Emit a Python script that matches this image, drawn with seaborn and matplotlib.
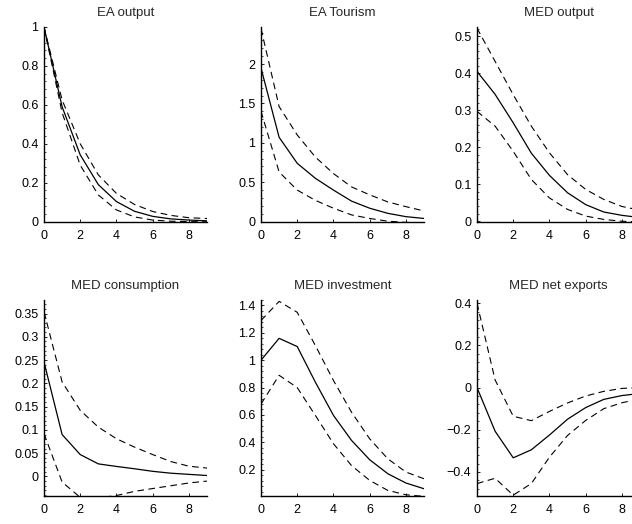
import matplotlib
matplotlib.use("Agg")
import matplotlib.pyplot as plt
from matplotlib.ticker import FuncFormatter, MultipleLocator, AutoMinorLocator
import seaborn as sns
import pandas as pd

sns.set_theme(style="ticks")
plt.rcParams['font.family'] = ['Liberation Sans', 'DejaVu Sans']
plt.rcParams['axes.unicode_minus'] = True

horizon = list(range(10))

titles = ["EA output", "EA Tourism", "MED output",
          "MED consumption", "MED investment", "MED net exports"]

ea_output_mid = [1.0, 0.59, 0.343, 0.19, 0.103, 0.053, 0.027, 0.014, 0.008, 0.004]
ea_output_up = [1.0, 0.625, 0.40, 0.24, 0.145, 0.088, 0.052, 0.032, 0.02, 0.016]
ea_output_lo = [1.0, 0.56, 0.29, 0.137, 0.06, 0.024, 0.008, 0.002, 0.0, -0.001]

ea_tourism_mid = [1.95, 1.07, 0.74, 0.55, 0.40, 0.26, 0.17, 0.105, 0.063, 0.04]
ea_tourism_up = [2.45, 1.46, 1.10, 0.82, 0.61, 0.44, 0.34, 0.25, 0.19, 0.135]
ea_tourism_lo = [1.40, 0.63, 0.40, 0.27, 0.17, 0.085, 0.04, 0.005, -0.01, -0.015]

med_output_mid = [0.405, 0.343, 0.266, 0.184, 0.124, 0.077, 0.045, 0.025, 0.016, 0.01]
med_output_up = [0.522, 0.432, 0.342, 0.257, 0.185, 0.126, 0.086, 0.059, 0.04, 0.03]
med_output_lo = [0.297, 0.257, 0.189, 0.113, 0.063, 0.032, 0.014, 0.005, 0.0, -0.002]

med_cons_mid = [0.246, 0.09, 0.047, 0.027, 0.0215, 0.0165, 0.011, 0.007, 0.0045, 0.002]
med_cons_up = [0.354, 0.203, 0.142, 0.106, 0.081, 0.063, 0.047, 0.032, 0.022, 0.018]
med_cons_lo = [0.092, -0.012, -0.045, -0.046, -0.041, -0.032, -0.026, -0.020, -0.014, -0.010]

med_inv_mid = [1.0, 1.16, 1.10, 0.84, 0.597, 0.414, 0.273, 0.171, 0.103, 0.061]
med_inv_up = [1.29, 1.43, 1.35, 1.108, 0.852, 0.62, 0.426, 0.28, 0.183, 0.134]
med_inv_lo = [0.68, 0.89, 0.80, 0.597, 0.39, 0.23, 0.122, 0.049, 0.017, 0.005]

med_nx_mid = [0.0, -0.207, -0.333, -0.295, -0.225, -0.15, -0.095, -0.056, -0.038, -0.028]
med_nx_up = [0.40, 0.036, -0.136, -0.157, -0.113, -0.073, -0.04, -0.018, -0.004, 0.0]
med_nx_lo = [-0.455, -0.43, -0.51, -0.455, -0.33, -0.227, -0.156, -0.10, -0.072, -0.054]

series = [
    (ea_output_mid, ea_output_up, ea_output_lo),
    (ea_tourism_mid, ea_tourism_up, ea_tourism_lo),
    (med_output_mid, med_output_up, med_output_lo),
    (med_cons_mid, med_cons_up, med_cons_lo),
    (med_inv_mid, med_inv_up, med_inv_lo),
    (med_nx_mid, med_nx_up, med_nx_lo),
]

ylims = [(-0.002, 1.0), (-0.005, 2.47), (-0.002, 0.525),
         (-0.042, 0.379), (0.008, 1.44), (-0.514, 0.415)]
ysteps = [0.2, 0.5, 0.1, 0.05, 0.2, 0.2]

W, H = 632, 524
fig = plt.figure(figsize=(W / 100, H / 100), dpi=100)
fig.patch.set_facecolor("white")

lefts = [44, 261, 477]
rows = [(27, 222), (300, 496)]
pw = 163

fmt = FuncFormatter(lambda v, p: ("%g" % round(v, 6)).replace("-", "\u2212"))

for i, (title, (mid, up, lo)) in enumerate(zip(titles, series)):
    r, c = divmod(i, 3)
    top, bot = rows[r]
    ax = fig.add_axes([lefts[c] / W, (H - bot) / H, pw / W, (bot - top) / H])
    ax.set_facecolor("white")
    df = pd.DataFrame({"h": horizon, "mid": mid, "up": up, "lo": lo})
    sns.lineplot(data=df, x="h", y="mid", ax=ax, color="black", lw=0.9)
    sns.lineplot(data=df, x="h", y="up", ax=ax, color="black", lw=0.8,
                 linestyle=(0, (6, 4)))
    sns.lineplot(data=df, x="h", y="lo", ax=ax, color="black", lw=0.8,
                 linestyle=(0, (6, 4)))
    ax.set_xlim(0, 9)
    ax.set_ylim(*ylims[i])
    ax.xaxis.set_major_locator(MultipleLocator(2))
    ax.yaxis.set_major_locator(MultipleLocator(ysteps[i]))
    ax.yaxis.set_minor_locator(AutoMinorLocator(5))
    ax.xaxis.set_major_formatter(fmt)
    ax.yaxis.set_major_formatter(fmt)
    ax.set_xlabel("")
    ax.set_ylabel("")
    ax.set_title(title, fontsize=9.5, pad=8)
    for s in ["top", "right"]:
        ax.spines[s].set_visible(False)
    for s in ["left", "bottom"]:
        ax.spines[s].set_color("black")
        ax.spines[s].set_linewidth(1.0)
    ax.tick_params(axis="both", which="major", direction="in", length=2.5,
                   width=0.6, labelsize=9, colors="black")
    ax.tick_params(axis="x", which="major", pad=6)
    ax.tick_params(axis="y", which="major", pad=4)
    ax.tick_params(axis="y", which="minor", direction="in", length=1.2,
                   width=0.5, colors="black")
    ax.grid(False)

fig.savefig("out.png", dpi=100, facecolor="white")
